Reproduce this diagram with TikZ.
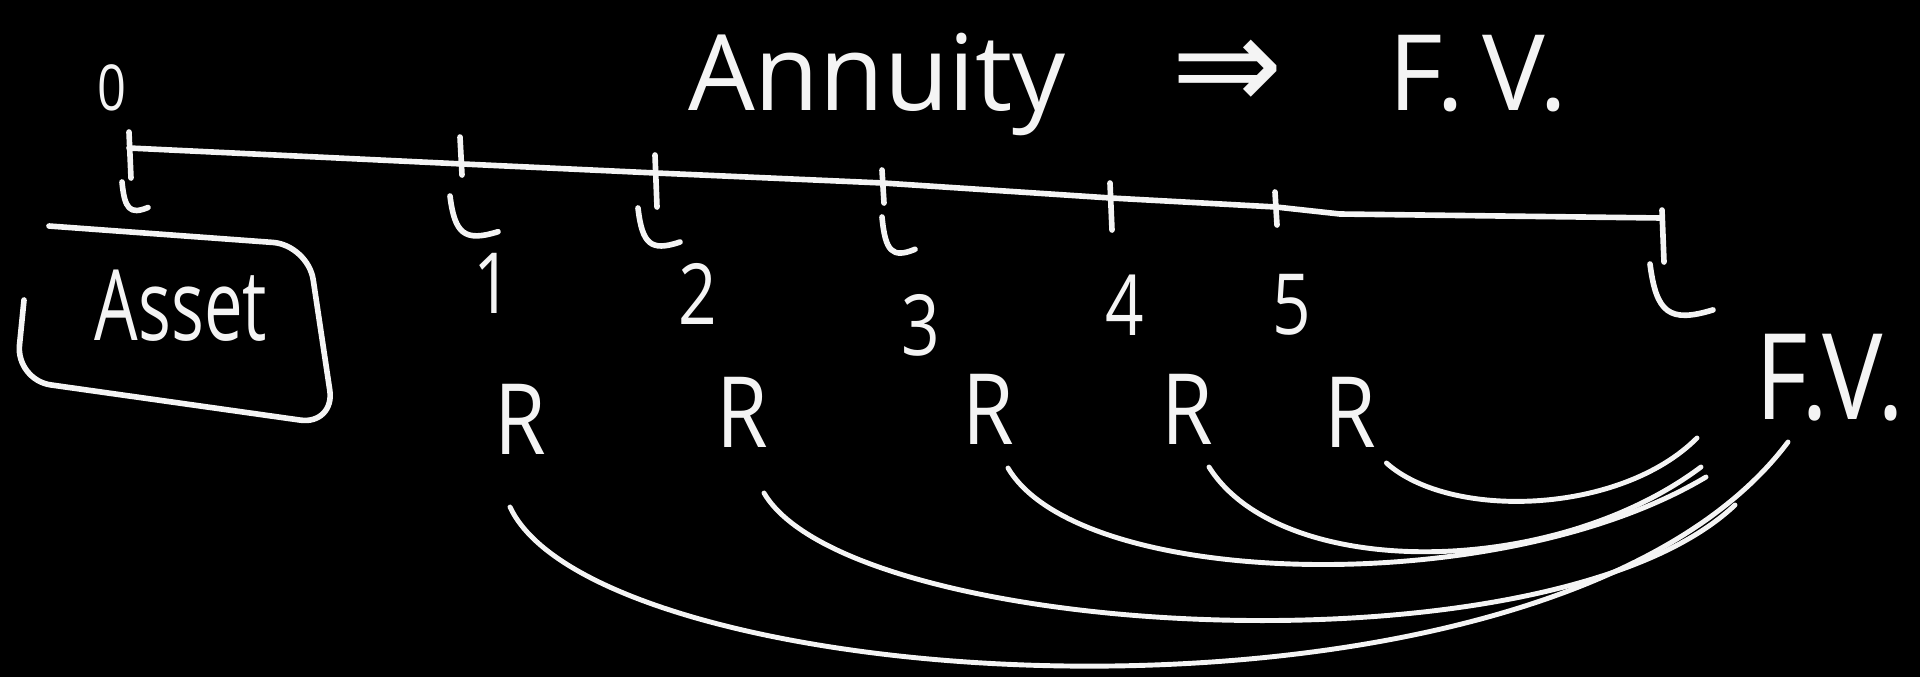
\documentclass[tikz,border=0pt]{standalone}
\usepackage{fontspec}
\setmainfont{Open Sans}
\newfontfamily\symfont{DejaVu Sans}
\usepackage{xcolor}
\definecolor{cBoard}{HTML}{000000}
\definecolor{cChalk}{HTML}{F4F4F4}
\usepackage{tikz}
\usetikzlibrary{positioning}
\tikzset{
  node-title/.style={text=cChalk,inner sep=0pt,font=\fontsize{30}{34}\selectfont},
  node-zero/.style={text=cChalk,inner sep=0pt,font=\fontsize{18}{22}\selectfont,xscale=0.8},
  node-tick/.style={text=cChalk,inner sep=0pt,font=\fontsize{24}{28}\selectfont,xscale=0.8},
  node-asset/.style={text=cChalk,inner sep=0pt,font=\fontsize{28}{32}\selectfont,xscale=0.7},
  node-pay/.style={text=cChalk,inner sep=0pt,anchor=south,font=\fontsize{28}{32}\selectfont,xscale=0.85},
  node-fv/.style={text=cChalk,inner sep=0pt,font=\fontsize{34}{40}\selectfont,xscale=0.85},
  pen/.style={draw=cChalk,line width=1.6pt,line cap=round,line join=round},
  curve-fv/.style={pen,line width=1.4pt},
}
\begin{document}
\begin{tikzpicture}[x=0.1mm,y=-0.1mm]
  \fill[cBoard] (0,0) rectangle (1920,677);
  \useasboundingbox (0,0) rectangle (1920,677);

  % heading
  \node[node-title,anchor=base] (title) at (1128,110)
    {Annuity\quad{\symfont\fontsize{38}{38}\selectfont ⇒}\quad F.\,V.};

  % time line
  \coordinate (t0) at (129,148);
  \coordinate (t1) at (463,164);
  \coordinate (t2) at (656,173);
  \coordinate (t3) at (883,183);
  \coordinate (t4) at (1111,198);
  \coordinate (t5) at (1276,207);
  \coordinate (tb) at (1340,214);
  \coordinate (tN) at (1662,218);
  \draw[pen] (t0) -- (t1) -- (t2) -- (t3) -- (t4) -- (t5) -- (tb) -- (tN);
  \foreach \tx/\ta/\tb in {129/132/178, 460/137/175, 655/155/207, 882/170/203,
                           1110/183/230, 1275/192/225, 1662/210/262}
    \draw[pen] (\tx,\ta) -- (\tx+2,\tb);
  % hooks under the ticks
  \foreach \hx/\hy/\hw/\hh in {122/182/26/30, 450/196/48/42, 638/208/42/40,
                               882/217/33/38, 1650/264/63/54}
    \draw[pen] (\hx,\hy) .. controls (\hx+0.1*\hw,\hy+0.9*\hh)
      and (\hx+0.3*\hw,\hy+1.1*\hh) .. (\hx+\hw,\hy+0.85*\hh);

  % periods
  \node[node-zero] (p0) at (112,88) {0};
  \node[node-tick] (p1) at (493,283) {1};
  \node[node-tick] (p2) at (698,294) {2};
  \node[node-tick] (p3) at (921,325) {3};
  \node[node-tick] (p4) at (1125,305) {4};
  \node[node-tick] (p5) at (1292,305) {5};

  % asset box
  \node[node-asset] (asset) at (181,306) {Asset};
  \draw[pen,rounded corners=10pt] (24,300) -- (16,380) -- (335,425) -- (308,245) -- (49,226);

  % payments
  \node[node-pay] (r1) at (520,455) {R};
  \node[node-pay] (r2) at (742,448) {R};
  \node[node-pay] (r3) at (988,445) {R};
  \node[node-pay] (r4) at (1187,445) {R};
  \node[node-pay] (r5) at (1350,448) {R};

  % future value
  \node[node-fv] (fv) at (1830,378) {F.V.};
  \coordinate (e1) at (1788,442);
  \coordinate (e2) at (1735,505);
  \coordinate (e3) at (1706,477);
  \coordinate (e4) at (1701,467);
  \coordinate (e5) at (1697,438);

  \draw[curve-fv] ([shift={(-10,52)}]r1.south) .. controls (600,700) and (1550,760) .. (e1);
  \draw[curve-fv] ([shift={(22,45)}]r2.south) .. controls (850,640) and (1550,680) .. (e2);
  \draw[curve-fv] ([shift={(20,23)}]r3.south) .. controls (1080,590) and (1500,600) .. (e3);
  \draw[curve-fv] ([shift={(22,22)}]r4.south) .. controls (1280,580) and (1550,580) .. (e4);
  \draw[curve-fv] ([shift={(10,15)}]r5.south east) .. controls (1450,520) and (1620,515) .. (e5);
\end{tikzpicture}
\end{document}
